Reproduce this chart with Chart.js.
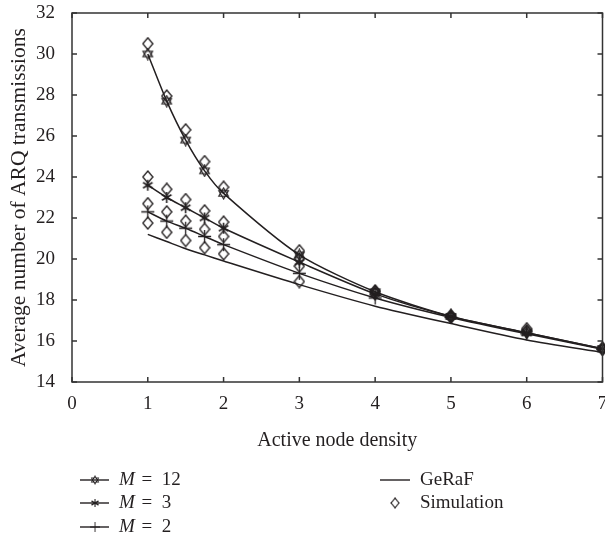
<!DOCTYPE html>
<html>
<head>
<meta charset="utf-8">
<script src="https://cdn.jsdelivr.net/npm/chart.js@4.4.1/dist/chart.umd.min.js"></script>
<style>
  html, body { margin: 0; padding: 0; background: #fff; overflow: hidden; }
  #wrap { width: 605px; height: 539px; overflow: hidden; }
</style>
</head>
<body>
<div id="wrap"><canvas id="chart" width="610" height="539"></canvas></div>
<script>
"use strict";

// node densities where the analytic curves and simulations are evaluated
var densityX = [1, 1.25, 1.5, 1.75, 2, 3, 4, 5, 6, 7];
var simGerafX = [1, 1.25, 1.5, 1.75, 2, 3];

// analytic curves
var m12Values = [30.0, 27.7, 25.8, 24.3, 23.2, 20.2, 18.4, 17.2, 16.4, 15.62];
var m3Values = [23.6, 23.0, 22.5, 22.0, 21.5, 19.85, 18.3, 17.2, 16.4, 15.62];
var m2Values = [22.3, 21.85, 21.5, 21.1, 20.7, 19.3, 18.1, 17.15, 16.35, 15.6];
var gerafValues = [21.2, 20.85, 20.5, 20.2, 19.9, 18.75, 17.7, 16.85, 16.05, 15.45];

// simulation results (diamonds)
var simM12 = [30.5, 27.95, 26.3, 24.75, 23.5, 20.4, 18.45, 17.25, 16.6, 15.65];
var simM3 = [24.0, 23.4, 22.9, 22.35, 21.8, 20.0, 18.4, 17.2, 16.5, 15.62];
var simM2 = [22.7, 22.3, 21.85, 21.45, 21.1, 19.65, 18.3, 17.15, 16.45, 15.6];
var simGeraf = [21.75, 21.3, 20.9, 20.55, 20.25, 18.9];

var xTicks = [0, 1, 2, 3, 4, 5, 6, 7];
var yTicks = [14, 16, 18, 20, 22, 24, 26, 28, 30, 32];

var ink = "#231f20";
var serif = '"Liberation Serif", "DejaVu Serif", serif';

function makeMarker(w, h, lw, draw) {
	var c = document.createElement("canvas");
	c.width = w;
	c.height = h;
	var ctx = c.getContext("2d");
	ctx.strokeStyle = ink;
	ctx.fillStyle = ink;
	ctx.lineWidth = lw;
	draw(ctx, w / 2, h / 2);
	return c;
}

function polyAt(ctx, cx, cy, r, angles) {
	ctx.beginPath();
	angles.forEach(function(a, i) {
		var rad = a * Math.PI / 180;
		var x = cx + r * Math.cos(rad), y = cy + r * Math.sin(rad);
		if (i === 0) ctx.moveTo(x, y); else ctx.lineTo(x, y);
	});
	ctx.closePath();
	ctx.stroke();
}

var hexagram = makeMarker(13, 13, 1.2, function(ctx, cx, cy) {
	polyAt(ctx, cx, cy, 5.5, [-90, 30, 150]);
	polyAt(ctx, cx, cy, 5.5, [90, 210, 330]);
});

var asterisk = makeMarker(13, 13, 1.6, function(ctx, cx, cy) {
	ctx.beginPath();
	[90, 30, 150].forEach(function(a) {
		var rad = a * Math.PI / 180;
		ctx.moveTo(cx - 5.5 * Math.cos(rad), cy - 5.5 * Math.sin(rad));
		ctx.lineTo(cx + 5.5 * Math.cos(rad), cy + 5.5 * Math.sin(rad));
	});
	ctx.stroke();
	ctx.beginPath();
	ctx.arc(cx, cy, 2, 0, Math.PI * 2);
	ctx.fill();
});

var plus = makeMarker(15, 15, 1.3, function(ctx, cx, cy) {
	ctx.beginPath();
	ctx.moveTo(cx - 6.5, cy); ctx.lineTo(cx + 6.5, cy);
	ctx.moveTo(cx, cy - 6.5); ctx.lineTo(cx, cy + 6.5);
	ctx.stroke();
});

var diamond = makeMarker(12, 14, 1.3, function(ctx, cx, cy) {
	ctx.beginPath();
	ctx.moveTo(cx, 1); ctx.lineTo(11, cy); ctx.lineTo(cx, 13); ctx.lineTo(1, cy);
	ctx.closePath();
	ctx.stroke();
});

function pairs(xs, ys) {
	return xs.map(function(x, i) { return { x: x, y: ys[i] }; });
}

function curve(label, values, marker) {
	return {
		label: label,
		data: pairs(densityX, values),
		borderColor: ink,
		borderWidth: 1.5,
		pointStyle: marker || false,
		pointRadius: marker ? 6 : 0,
		tension: 0.25,
		fill: false,
		clip: false
	};
}

function sims(label, xs, values) {
	return {
		label: label,
		data: pairs(xs, values),
		showLine: false,
		pointStyle: diamond,
		pointRadius: 6,
		borderColor: ink,
		clip: false
	};
}

// box with inward ticks on all four sides
var framePlugin = {
	id: "frame",
	afterDatasetsDraw: function(chart) {
		var a = chart.chartArea, ctx = chart.ctx;
		var xs = chart.scales.x, ys = chart.scales.y;
		ctx.save();
		ctx.strokeStyle = "#333";
		ctx.lineWidth = 1.5;
		ctx.strokeRect(a.left, a.top, a.right - a.left, a.bottom - a.top);
		ctx.beginPath();
		xs.ticks.forEach(function(t) {
			var px = xs.getPixelForValue(t.value);
			ctx.moveTo(px, a.bottom); ctx.lineTo(px, a.bottom - 5);
			ctx.moveTo(px, a.top); ctx.lineTo(px, a.top + 5);
		});
		ys.ticks.forEach(function(t) {
			var py = ys.getPixelForValue(t.value);
			ctx.moveTo(a.left, py); ctx.lineTo(a.left + 5, py);
			ctx.moveTo(a.right, py); ctx.lineTo(a.right - 5, py);
		});
		ctx.stroke();
		ctx.restore();
	}
};

// two-column legend under the axis title
var legendPlugin = {
	id: "paperLegend",
	afterDraw: function(chart) {
		var ctx = chart.ctx;
		var rows = [480, 503, 527];
		var left = [
			{ marker: hexagram, value: "12" },
			{ marker: asterisk, value: "3" },
			{ marker: plus, value: "2" }
		];
		ctx.save();
		ctx.strokeStyle = ink;
		ctx.fillStyle = ink;
		ctx.lineWidth = 1.4;
		ctx.textBaseline = "middle";
		left.forEach(function(item, i) {
			var y = rows[i];
			ctx.beginPath();
			ctx.moveTo(80, y); ctx.lineTo(109, y);
			ctx.stroke();
			var m = item.marker;
			ctx.drawImage(m, 95 - m.width / 2 * 0.75, y - m.height / 2 * 0.75, m.width * 0.75, m.height * 0.75);
			ctx.font = "italic 19px " + serif;
			ctx.fillText("M", 119, y);
			var mw = ctx.measureText("M").width;
			ctx.font = "19px " + serif;
			ctx.fillText(" =  " + item.value, 119 + mw + 2, y);
		});
		ctx.beginPath();
		ctx.moveTo(380, rows[0]); ctx.lineTo(410, rows[0]);
		ctx.stroke();
		ctx.font = "19px " + serif;
		ctx.fillText("GeRaF", 420, rows[0]);
		ctx.drawImage(diamond, 395 - diamond.width / 2 * 0.8, rows[1] - diamond.height / 2 * 0.8, diamond.width * 0.8, diamond.height * 0.8);
		ctx.fillText("Simulation", 420, rows[1]);
		ctx.restore();
	}
};

var ctx = document.getElementById("chart").getContext("2d");
new Chart(ctx, {
	type: "line",
	data: {
		datasets: [
			curve("M = 12", m12Values, hexagram),
			curve("M = 3", m3Values, asterisk),
			curve("M = 2", m2Values, plus),
			curve("GeRaF", gerafValues, null),
			sims("Simulation M = 12", densityX, simM12),
			sims("Simulation M = 3", densityX, simM3),
			sims("Simulation M = 2", densityX, simM2),
			sims("Simulation GeRaF", simGerafX, simGeraf)
		]
	},
	options: {
		responsive: false,
		animation: false,
		layout: { padding: { top: 13, right: 1, bottom: 86, left: 0 } },
		plugins: {
			legend: { display: false },
			tooltip: { enabled: false }
		},
		scales: {
			x: {
				type: "linear",
				min: 0,
				max: 7,
				afterBuildTicks: function(scale) {
					scale.ticks = xTicks.map(function(v) { return { value: v }; });
				},
				afterFit: function(scale) {
					scale.height = 71;
					scale.paddingLeft = 0;
					scale.paddingRight = 0;
				},
				grid: { display: false, drawTicks: false },
				border: { display: false },
				ticks: {
					padding: 11,
					color: ink,
					maxRotation: 0,
					font: { family: serif, size: 19 }
				},
				title: {
					display: true,
					text: "Active node density",
					color: ink,
					padding: { top: 0, bottom: 0 },
					font: { family: serif, size: 20 }
				}
			},
			y: {
				type: "linear",
				min: 14,
				max: 32,
				afterBuildTicks: function(scale) {
					scale.ticks = yTicks.map(function(v) { return { value: v }; });
				},
				afterFit: function(scale) {
					scale.width = 72;
					scale.paddingTop = 0;
					scale.paddingBottom = 0;
				},
				grid: { display: false, drawTicks: false },
				border: { display: false },
				ticks: {
					padding: 17,
					color: ink,
					font: { family: serif, size: 19 }
				},
				title: {
					display: true,
					text: "Average number of ARQ transmissions",
					color: ink,
					padding: { top: 6, bottom: 0 },
					font: { family: serif, size: 21.5 }
				}
			}
		}
	},
	plugins: [framePlugin, legendPlugin]
});
</script>
</body>
</html>
